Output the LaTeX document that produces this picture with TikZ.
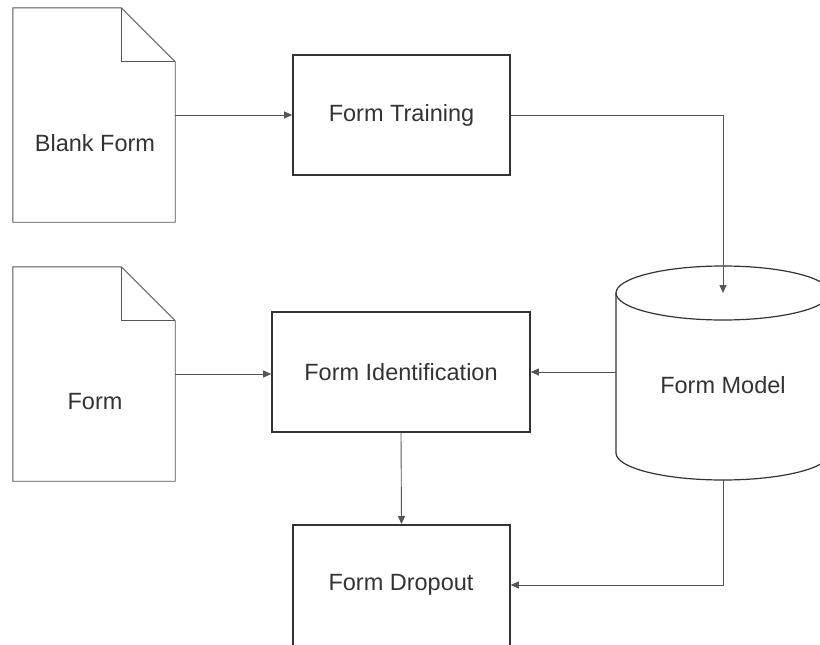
\documentclass[tikz,border=0pt]{standalone}
\usepackage{fontspec}
\setmainfont{Liberation Sans}
\usetikzlibrary{arrows.meta,calc}
\definecolor{ink}{HTML}{333333}
\definecolor{wire}{HTML}{555555}
\begin{document}
\begin{tikzpicture}[x=1pt,y=-1pt,
  every node/.style={font=\fontsize{23.5}{28}\selectfont, text=ink},
  procbox/.style={draw=ink, line width=1.6pt, fill=white, minimum width=217pt, minimum height=120pt, inner sep=0pt},
  docframe/.style={minimum width=162pt, minimum height=214pt, inner sep=0pt},
  docline/.style={draw=wire, line width=0.9pt},
  flow/.style={draw=wire, line width=0.9pt, -{Triangle[length=8pt,width=7pt]}}]
\useasboundingbox (0,0) rectangle (820,645);
\clip (0,0) rectangle (820,645);

% document pages with folded corner
\node[docframe] (bf) at (94,115) {};
\node[docframe] (fm) at (94,374) {};
\foreach \d in {bf,fm}{
  \draw[docline] (\d.north west) -- ([xshift=-54pt]\d.north east)
    -- ([yshift=-54pt]\d.north east) -- (\d.south east) -- (\d.south west) -- cycle;
  \draw[docline] ([xshift=-54pt]\d.north east) -- ([xshift=-54pt,yshift=-54pt]\d.north east)
    -- ([yshift=-54pt]\d.north east);
}
\node (bftext) at (95,143) {Blank Form};
\node (fmtext) at (95,402) {Form};

% processing steps
\node[procbox] (ft) at (401.5,115) {Form Training};
\node[procbox, minimum width=258pt] (fi) at (401,372) {Form Identification};
\node[procbox, minimum height=220pt, anchor=north] (fd) at (401.5,524) {};
\node (fdtext) at (401,585) {Form Dropout};

% data store cylinder
\draw[ink, line width=1.2pt, fill=white]
  (616,293) -- (616,453) arc[start angle=180, end angle=0, x radius=107, y radius=27]
  -- (830,293) arc[start angle=0, end angle=-180, x radius=107, y radius=27] -- cycle;
\draw[ink, line width=1.2pt] (616,293) arc[start angle=180, end angle=0, x radius=107, y radius=27];
\node (fmodel) at (723,385) {Form Model};
\coordinate (cyltop) at (723,293);
\coordinate (cylleft) at (616,372);
\coordinate (cylbot) at (723,480);

% connectors
\draw[flow] (bf.east) -- (ft.west);
\draw[flow] (ft.east) -| (cyltop);
\draw[flow] (fm.east) -- (fm.east -| fi.west);
\draw[flow] (cylleft) -- (fi.east);
\draw[flow] (fi.south) -- (fd.north);
\draw[flow] (cylbot) |- (fdtext -| fd.east);
\end{tikzpicture}
\end{document}
